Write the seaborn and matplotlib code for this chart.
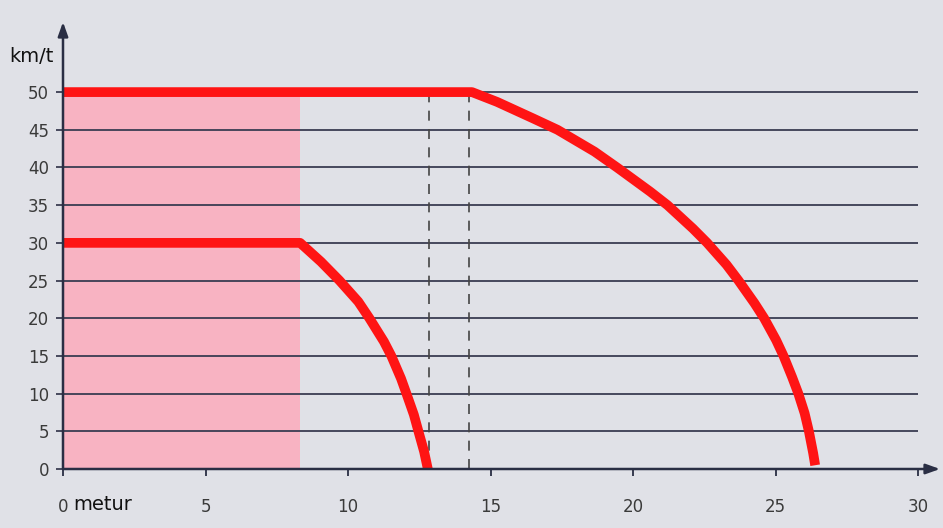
import matplotlib
matplotlib.use("Agg")
import matplotlib.pyplot as plt
import seaborn as sns
import pandas as pd

# ---- data ----
x_ticks = [0, 5, 10, 15, 20, 25, 30]
y_ticks = [0, 5, 10, 15, 20, 25, 30, 35, 40, 45, 50]

speed30_x = [0, 8.32, 9.05, 9.70, 10.36, 10.75, 11.26, 11.52, 11.86, 12.05,
             12.31, 12.47, 12.67, 12.80]
speed30_y = [30, 30, 27.5, 25, 22.2, 20, 16.9, 15, 12.0, 10, 7.2, 5, 2.3, 0]

speed50_x = [0, 14.35, 15.23, 16.50, 17.35, 18.65, 19.44, 20.60, 21.21, 22.10,
             22.60, 23.28, 23.70, 24.26, 24.60, 25.02, 25.28, 25.58, 25.80,
             26.02, 26.17, 26.32, 26.39]
speed50_y = [50, 50, 48.7, 46.5, 45, 42.1, 40, 36.8, 35, 31.9,
             30, 27.1, 25, 22.0, 20, 17.1, 15, 12.2, 10,
             7.4, 5, 2.1, 0.5]

reaction_zone_end = 8.3      # pink area (reaction distance at 30 km/t)
reaction_zone_top = 50
dashed_x = [12.84, 14.25]
dashed_top = 50

x_label = "metur"
y_label = "km/t"

# ---- styling ----
BG = "#e0e1e7"
AXIS = "#2a2e44"
GRID = "#3a3d52"
RED = "#ff1414"
PINK = "#f8b3c2"
TXT = "#3a3a3a"

sns.set_theme(style="white")
plt.rcParams["font.family"] = ["DejaVu Sans"]

fig = plt.figure(figsize=(9.43, 5.28), dpi=100, facecolor=BG)
ax = fig.add_axes([63 / 943, (528 - 469) / 528, (940 - 63) / 943, (469 - 22) / 528])
ax.set_facecolor(BG)

ax.set_xlim(0, 30.77)
ax.set_ylim(0, 59.3)

# pink reaction-distance area
ax.fill_between([0, reaction_zone_end], 0, reaction_zone_top, color=PINK, lw=0, zorder=1)

# horizontal grid lines
for y in y_ticks[1:]:
    ax.plot([0, 30], [y, y], color=GRID, lw=1.3, zorder=2, solid_capstyle="butt")

# dashed verticals
for xd in dashed_x:
    ax.plot([xd, xd], [0, dashed_top], color="#444444", lw=1.2,
            dashes=(6, 5), zorder=2)

# red speed lines
df30 = pd.DataFrame({"x": speed30_x, "y": speed30_y})
df50 = pd.DataFrame({"x": speed50_x, "y": speed50_y})
for df in (df30, df50):
    sns.lineplot(data=df, x="x", y="y", ax=ax, color=RED, lw=7, sort=False,
                 estimator=None, zorder=4)
for line in ax.get_lines()[-2:]:
    line.set_solid_joinstyle("round")
    line.set_solid_capstyle("butt")
    line.set_clip_on(False)

# axes with arrows
for s in ax.spines.values():
    s.set_visible(False)
ax.annotate("", xy=(1.0, 0), xytext=(0, 0), xycoords="axes fraction",
            arrowprops=dict(arrowstyle="-|>,head_length=0.7,head_width=0.25",
                            color=AXIS, lw=1.8, shrinkA=0, shrinkB=0), zorder=5)
ax.annotate("", xy=(0, 1.0), xytext=(0, 0), xycoords="axes fraction",
            arrowprops=dict(arrowstyle="-|>,head_length=0.7,head_width=0.25",
                            color=AXIS, lw=1.8, shrinkA=0, shrinkB=0), zorder=5)

ax.set_xticks(x_ticks)
ax.set_xticklabels([str(v) for v in x_ticks])
ax.set_yticks(y_ticks)
ax.set_yticklabels([str(v) for v in y_ticks])
ax.tick_params(axis="y", direction="out", length=5, width=1.3, color=GRID,
               pad=5, labelsize=12, labelcolor=TXT, left=True)
ax.tick_params(axis="x", direction="out", length=5, width=1.3, color=AXIS,
               pad=16, labelsize=12, labelcolor=TXT, bottom=True)
ax.set_xlabel("")
ax.set_ylabel("")
ax.grid(False)

fig.text(9 / 943, 1 - 57 / 528, y_label, ha="left", va="center",
         fontsize=14, color="#111111")
fig.text(73 / 943, 1 - 505 / 528, x_label, ha="left", va="center",
         fontsize=14, color="#111111")

fig.savefig("out.png", dpi=100, facecolor=BG)
